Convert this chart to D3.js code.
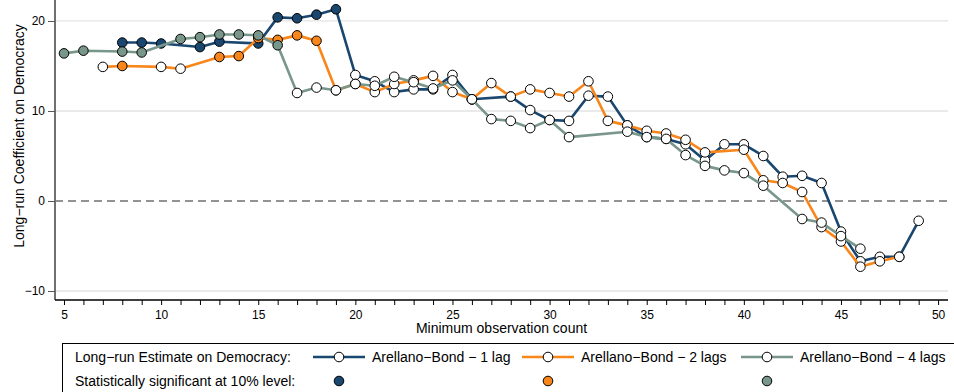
<!DOCTYPE html>
<html>
<head>
<meta charset="utf-8">
<script src="https://cdn.jsdelivr.net/npm/d3@7"></script>
<style>
    body { margin: 0; background: #fff; }
    text { font-family: "Liberation Sans", Arial, Helvetica, sans-serif; }
</style>
</head>
<body>
<div class="canvas"></div>
<script>
'use strict';

// Arellano-Bond - 1 lag
const lag1Obs = [8, 9, 10, 12, 13, 15, 16, 17, 18, 19, 20, 21, 22, 23, 24, 25, 26, 28, 29, 30, 31, 32, 33, 34, 35, 36, 37, 38, 39, 40, 41, 42, 43, 44, 45, 46, 47, 48, 49];
const lag1Est = [17.6, 17.6, 17.5, 17.1, 17.7, 17.5, 20.4, 20.3, 20.7, 21.3, 14.0, 13.3, 12.1, 12.4, 12.4, 14.0, 11.3, 11.6, 10.1, 9.0, 8.9, 11.7, 11.6, 8.4, 7.1, 6.9, 6.3, 4.5, 6.3, 6.3, 5.0, 2.7, 2.8, 2.0, -3.4, -6.7, -6.2, -6.2, -2.2];
const lag1Sig = [1, 1, 1, 1, 1, 1, 1, 1, 1, 1, 0, 0, 0, 0, 0, 0, 0, 0, 0, 0, 0, 0, 0, 0, 0, 0, 0, 0, 0, 0, 0, 0, 0, 0, 0, 0, 0, 0, 0];

// Arellano-Bond - 2 lags
const lag2Obs = [7, 8, 10, 11, 13, 14, 15, 16, 17, 18, 19, 20, 21, 22, 23, 24, 25, 26, 27, 28, 29, 30, 31, 32, 33, 34, 35, 36, 37, 38, 40, 41, 42, 43, 44, 45, 46, 47, 48];
const lag2Est = [14.9, 15.0, 14.9, 14.7, 16.0, 16.1, 18.1, 17.9, 18.4, 17.8, 12.3, 13.0, 12.1, 13.0, 13.4, 13.9, 12.1, 11.3, 13.1, 11.6, 12.4, 12.0, 11.6, 13.3, 8.9, 8.4, 7.8, 7.5, 6.8, 5.4, 5.7, 2.3, 2.0, 1.0, -2.9, -4.5, -7.3, -6.7, -6.2];
const lag2Sig = [0, 1, 0, 0, 1, 1, 1, 1, 1, 1, 0, 0, 0, 0, 0, 0, 0, 0, 0, 0, 0, 0, 0, 0, 0, 0, 0, 0, 0, 0, 0, 0, 0, 0, 0, 0, 0, 0, 0];

// Arellano-Bond - 4 lags
const lag4Obs = [5, 6, 8, 9, 11, 12, 13, 14, 15, 16, 17, 18, 19, 20, 21, 22, 23, 24, 25, 26, 27, 28, 29, 30, 31, 34, 35, 36, 37, 38, 39, 40, 41, 43, 44, 45, 46];
const lag4Est = [16.4, 16.7, 16.6, 16.5, 18.0, 18.2, 18.5, 18.5, 18.4, 17.3, 12.0, 12.6, 12.3, 13.0, 12.8, 13.8, 13.2, 12.5, 13.4, 11.3, 9.1, 8.9, 8.1, 9.0, 7.1, 7.7, 7.1, 6.9, 5.1, 3.9, 3.4, 3.1, 1.7, -2.0, -2.4, -3.9, -5.3];
const lag4Sig = [1, 1, 1, 1, 1, 1, 1, 1, 1, 1, 0, 0, 0, 0, 0, 0, 0, 0, 0, 0, 0, 0, 0, 0, 0, 0, 0, 0, 0, 0, 0, 0, 0, 0, 0, 0, 0];

const seriesNames = ['Arellano\u2212Bond \u2212 1 lag', 'Arellano\u2212Bond \u2212 2 lags', 'Arellano\u2212Bond \u2212 4 lags'];
const seriesColours = ['#1a476f', '#f8861a', '#78978a'];

const xTicks = [5, 10, 15, 20, 25, 30, 35, 40, 45, 50];
const yTicks = [-10, 0, 10, 20];

const dimensions = { width: 954, height: 392 };
const plot = { left: 55, right: 948, top: 0, bottom: 300 };

const svg = d3.select('.canvas')
    .append('svg')
    .attr('width', dimensions.width)
    .attr('height', dimensions.height);

const x = d3.scaleLinear().domain([4.537, 50.51]).range([plot.left, plot.right]);
const y = d3.scaleLinear().domain([-11, 22.33]).range([plot.bottom, plot.top]);

// gridlines
svg.append('g')
    .selectAll('line')
    .data(yTicks.filter(d => d !== 0))
    .enter().append('line')
    .attr('x1', plot.left).attr('x2', plot.right)
    .attr('y1', d => y(d)).attr('y2', d => y(d))
    .attr('stroke', '#e3e3e3')
    .attr('stroke-width', 1.3);

// zero reference line
svg.append('line')
    .attr('x1', plot.left).attr('x2', plot.right)
    .attr('y1', y(0)).attr('y2', y(0))
    .attr('stroke', '#707070')
    .attr('stroke-width', 1.4)
    .attr('stroke-dasharray', '8,5');

// y axis
const yAxis = svg.append('g')
    .attr('transform', `translate(${plot.left},0)`)
    .call(d3.axisLeft(y).tickValues(yTicks).tickSize(7).tickPadding(3)
        .tickFormat(d => d < 0 ? '\u2212' + Math.abs(d) : d));
yAxis.select('.domain').attr('stroke', '#707070').attr('stroke-width', 2)
    .attr('d', `M0,${plot.top}V${plot.bottom}`);
yAxis.selectAll('.tick line').attr('stroke', '#555');
yAxis.selectAll('text').attr('font-size', 12).attr('fill', '#000')
    .style('font-family', '"Liberation Sans", Arial, sans-serif');

// x axis
const minorTicks = d3.range(5, 51);
const xAxis = svg.append('g')
    .attr('transform', `translate(0,${plot.bottom})`)
    .call(d3.axisBottom(x).tickValues(minorTicks).tickSize(5).tickPadding(5)
        .tickFormat(d => xTicks.includes(d) ? d : ''));
xAxis.select('.domain').attr('stroke', '#000').attr('stroke-width', 1.4)
    .attr('d', `M${plot.left},0H${plot.right}`);
xAxis.selectAll('.tick line').attr('stroke', '#000');
xAxis.selectAll('text').attr('font-size', 12).attr('fill', '#000')
    .style('font-family', '"Liberation Sans", Arial, sans-serif');

// axis titles
svg.append('text')
    .attr('x', (plot.left + plot.right) / 2)
    .attr('y', 333)
    .attr('text-anchor', 'middle')
    .attr('font-size', 14)
    .text('Minimum observation count');

svg.append('text')
    .attr('transform', 'translate(24,136) rotate(-90)')
    .attr('text-anchor', 'middle')
    .attr('font-size', 14)
    .text('Long\u2212run Coefficient on Democracy');

// series
const makeSeries = (obs, est, sig) => obs.map((d, i) => ({ obs: d, est: est[i], sig: sig[i] === 1 }));

const series = [
    makeSeries(lag1Obs, lag1Est, lag1Sig),
    makeSeries(lag2Obs, lag2Est, lag2Sig),
    makeSeries(lag4Obs, lag4Est, lag4Sig)
];

const line = d3.line()
    .x(d => x(d.obs))
    .y(d => y(d.est));

series.forEach((data, i) => {
    const g = svg.append('g');

    g.append('path')
        .datum(data)
        .attr('d', line)
        .attr('fill', 'none')
        .attr('stroke', seriesColours[i])
        .attr('stroke-width', 2.6)
        .attr('stroke-linejoin', 'round');

    g.selectAll('circle')
        .data(data)
        .enter().append('circle')
        .attr('cx', d => x(d.obs))
        .attr('cy', d => y(d.est))
        .attr('r', 4.8)
        .attr('fill', d => d.sig ? seriesColours[i] : '#fff')
        .attr('stroke', '#000')
        .attr('stroke-width', 1);
});

// legend
const legend = svg.append('g');

legend.append('rect')
    .attr('x', 62.5).attr('y', 343.5)
    .attr('width', 900).attr('height', 60)
    .attr('fill', '#fff')
    .attr('stroke', '#000')
    .attr('stroke-width', 1);

legend.append('text')
    .attr('x', 75).attr('y', 362)
    .attr('font-size', 14)
    .text('Long\u2212run Estimate on Democracy:');

legend.append('text')
    .attr('x', 75).attr('y', 386)
    .attr('font-size', 14)
    .text('Statistically significant at 10% level:');

const legendKeys = [313, 522, 741];

legendKeys.forEach((kx, i) => {
    legend.append('line')
        .attr('x1', kx).attr('x2', kx + 52)
        .attr('y1', 357).attr('y2', 357)
        .attr('stroke', seriesColours[i])
        .attr('stroke-width', 2.6);

    legend.append('circle')
        .attr('cx', kx + 26).attr('cy', 357).attr('r', 4.8)
        .attr('fill', '#fff').attr('stroke', '#000').attr('stroke-width', 1);

    legend.append('text')
        .attr('x', kx + 59).attr('y', 362)
        .attr('font-size', 14)
        .text(seriesNames[i]);

    legend.append('circle')
        .attr('cx', kx + 26).attr('cy', 381).attr('r', 4.8)
        .attr('fill', seriesColours[i]).attr('stroke', '#000').attr('stroke-width', 1);
});
</script>
</body>
</html>
